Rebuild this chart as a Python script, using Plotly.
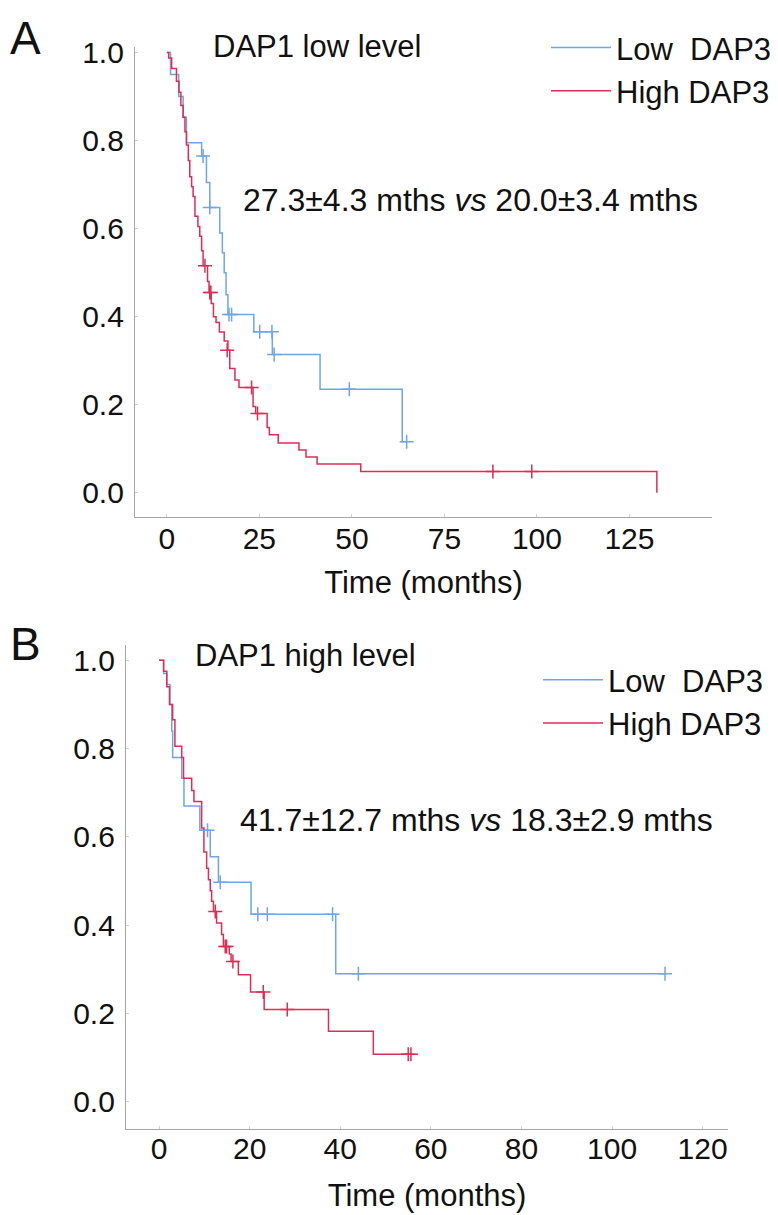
import plotly.graph_objects as go

# ---------------- Panel A: DAP1 low level ----------------
a_low_t = [0, 1.0, 3.2, 4.4, 5.3, 9.4, 10.7, 11.6, 14.3, 15.0, 15.5, 16.0, 16.5, 23.5, 28.5, 41.4, 63.6, 64.8]
a_low_s = [1.0, 0.95, 0.90, 0.853, 0.795, 0.765, 0.705, 0.648, 0.59, 0.545, 0.50, 0.45, 0.405, 0.366, 0.314, 0.235, 0.116, 0.116]
a_low_cens_t = [9.8, 11.6, 16.8, 17.5, 25.1, 28.4, 29.0, 49.3, 64.8]
a_low_cens_s = [0.765, 0.648, 0.405, 0.405, 0.366, 0.366, 0.314, 0.235, 0.116]

a_high_t = [0, 0.5, 1.3, 2.6, 3.3, 3.8, 4.4, 4.9, 5.3, 5.8, 6.2, 6.7, 7.1, 7.6, 8.4, 8.9, 9.4, 9.8,
            11.0, 11.4, 12.0, 12.6, 13.3, 14.2, 15.5, 16.5, 17.0, 18.4, 19.5, 23.3, 24.0, 27.1, 27.7,
            30.1, 35.7, 37.6, 40.6, 52.4, 132.4]
a_high_s = [1.0, 0.988, 0.964, 0.935, 0.91, 0.88, 0.853, 0.82, 0.79, 0.755, 0.718, 0.695, 0.673, 0.628, 0.605,
            0.583, 0.55, 0.516, 0.48, 0.455, 0.43, 0.40, 0.387, 0.365, 0.345, 0.324, 0.282, 0.256, 0.239,
            0.196, 0.18, 0.148, 0.132, 0.113, 0.097, 0.081, 0.065, 0.048, 0.0]
a_high_cens_t = [10.3, 11.6, 11.9, 16.3, 22.9, 24.5, 88.1, 98.6]
a_high_cens_s = [0.516, 0.455, 0.455, 0.324, 0.239, 0.18, 0.048, 0.048]

# ---------------- Panel B: DAP1 high level ----------------
b_low_t = [0, 1.0, 1.7, 2.4, 2.8, 3.0, 5.0, 5.5, 9.0, 11.3, 13.1, 20.3, 39.0, 111.7]
b_low_s = [1.0, 0.97, 0.945, 0.90, 0.84, 0.78, 0.733, 0.67, 0.615, 0.555, 0.497, 0.425, 0.29, 0.29]
b_low_cens_t = [10.7, 13.5, 21.8, 23.9, 38.3, 44.0, 111.7]
b_low_cens_s = [0.615, 0.497, 0.425, 0.425, 0.425, 0.29, 0.29]

b_high_t = [0, 1.0, 1.7, 2.3, 3.0, 3.5, 5.0, 5.4, 7.2, 7.7, 9.4, 9.9, 10.5, 10.9, 11.3, 11.6, 12.0,
            12.7, 13.8, 14.2, 15.5, 15.9, 17.5, 20.2, 23.2, 37.4, 47.3, 55.8]
b_high_s = [1.0, 0.975, 0.94, 0.90, 0.865, 0.805, 0.78, 0.733, 0.705, 0.68, 0.62, 0.566, 0.529, 0.503,
            0.478, 0.454, 0.431, 0.405, 0.379, 0.352, 0.335, 0.318, 0.288, 0.249, 0.209, 0.160, 0.108, 0.108]
b_high_cens_t = [12.4, 14.6, 14.9, 16.3, 23.0, 28.3, 55.0, 55.6]
b_high_cens_s = [0.431, 0.352, 0.352, 0.318, 0.249, 0.209, 0.108, 0.108]

y_ticks = [0.0, 0.2, 0.4, 0.6, 0.8, 1.0]
a_x_ticks = [0, 25, 50, 75, 100, 125]
b_x_ticks = [0, 20, 40, 60, 80, 100, 120]
series_names = ["Low  DAP3", "High DAP3"]

BLUE = "rgb(110,165,230)"
RED = "rgb(222,45,85)"
FONT = "Liberation Sans, Arial, sans-serif"
W, H = 778, 1215

fig = go.Figure()

def add_panel(fig, xa, ya, legend, lt, ls, lct, lcs, ht, hs, hct, hcs):
    fig.add_trace(go.Scatter(x=lt, y=ls, mode="lines", line=dict(color=BLUE, width=1.5, shape="hv"),
                             name=series_names[0], xaxis=xa, yaxis=ya, legend=legend))
    fig.add_trace(go.Scatter(x=ht, y=hs, mode="lines", line=dict(color=RED, width=1.5, shape="hv"),
                             name=series_names[1], xaxis=xa, yaxis=ya, legend=legend))
    fig.add_trace(go.Scatter(x=lct, y=lcs, mode="markers", showlegend=False, xaxis=xa, yaxis=ya,
                             marker=dict(symbol="cross-thin", size=10, color=BLUE,
                                         line=dict(color=BLUE, width=1.5))))
    fig.add_trace(go.Scatter(x=hct, y=hcs, mode="markers", showlegend=False, xaxis=xa, yaxis=ya,
                             marker=dict(symbol="cross-thin", size=10, color=RED,
                                         line=dict(color=RED, width=1.5))))

add_panel(fig, "x", "y", "legend", a_low_t, a_low_s, a_low_cens_t, a_low_cens_s,
          a_high_t, a_high_s, a_high_cens_t, a_high_cens_s)
add_panel(fig, "x2", "y2", "legend2", b_low_t, b_low_s, b_low_cens_t, b_low_cens_s,
          b_high_t, b_high_s, b_high_cens_t, b_high_cens_s)

axis_common = dict(showgrid=False, zeroline=False, showline=True, linecolor="#a6a6a6", linewidth=1.2,
                   ticks="inside", ticklen=3, tickcolor="#d0d0d0",
                   tickfont=dict(family=FONT, size=30, color="#111"))

def px_x(p):
    return p / W

def px_y(p):
    return 1 - p / H

title_font = dict(family=FONT, size=31, color="#111")

fig.update_layout(
    width=W, height=H, margin=dict(l=0, r=0, t=0, b=0),
    paper_bgcolor="white", plot_bgcolor="white",
    font=dict(family=FONT, color="#111"),
    xaxis=dict(domain=[px_x(135), px_x(712)], range=[-8.6, 147.3], tickvals=a_x_ticks,
               anchor="y", ticklabelstandoff=-5,
               title=dict(text="Time (months)", font=title_font, standoff=16),
               **axis_common),
    yaxis=dict(domain=[px_y(511), px_y(36)], range=[-0.056, 1.0135], tickvals=y_ticks,
               tickformat=".1f", anchor="x", ticklabelstandoff=4, **axis_common),
    xaxis2=dict(domain=[px_x(126), px_x(728)], range=[-7.3, 125.6], tickvals=b_x_ticks,
                anchor="y2", ticklabelstandoff=-7,
                title=dict(text="Time (months)", font=title_font, standoff=20),
                **axis_common),
    yaxis2=dict(domain=[px_y(1128), px_y(640)], range=[-0.061, 1.034], tickvals=y_ticks,
                tickformat=".1f", anchor="x2", ticklabelstandoff=4, **axis_common),
    legend=dict(x=px_x(546), y=px_y(10), xanchor="left", yanchor="top", bgcolor="rgba(0,0,0,0)",
                font=dict(family=FONT, size=31), itemwidth=60, tracegroupgap=0),
    legend2=dict(x=px_x(538), y=px_y(648), xanchor="left", yanchor="top", bgcolor="rgba(0,0,0,0)",
                 font=dict(family=FONT, size=31), itemwidth=60, tracegroupgap=0),
)

annos = [
    dict(text="A", x=px_x(8), y=px_y(27), size=46),
    dict(text="DAP1 low level", x=px_x(211), y=px_y(36), size=31),
    dict(text="27.3\u00b14.3 mths <i>vs</i> 20.0\u00b13.4 mths", x=px_x(241), y=px_y(191), size=32),
    dict(text="B", x=px_x(8), y=px_y(639), size=46),
    dict(text="DAP1 high level", x=px_x(193), y=px_y(650), size=31),
    dict(text="41.7\u00b112.7 mths <i>vs</i> 18.3\u00b12.9 mths", x=px_x(238), y=px_y(816), size=32),
]
for a in annos:
    fig.add_annotation(text=a["text"], x=a["x"], y=a["y"], xref="paper", yref="paper",
                       xanchor="left", yanchor="middle", showarrow=False,
                       font=dict(family=FONT, size=a["size"], color="#111"))

fig.write_html("out.html", config={"displayModeBar": False},
               post_script="document.body.style.margin='0';document.body.style.padding='0';")
